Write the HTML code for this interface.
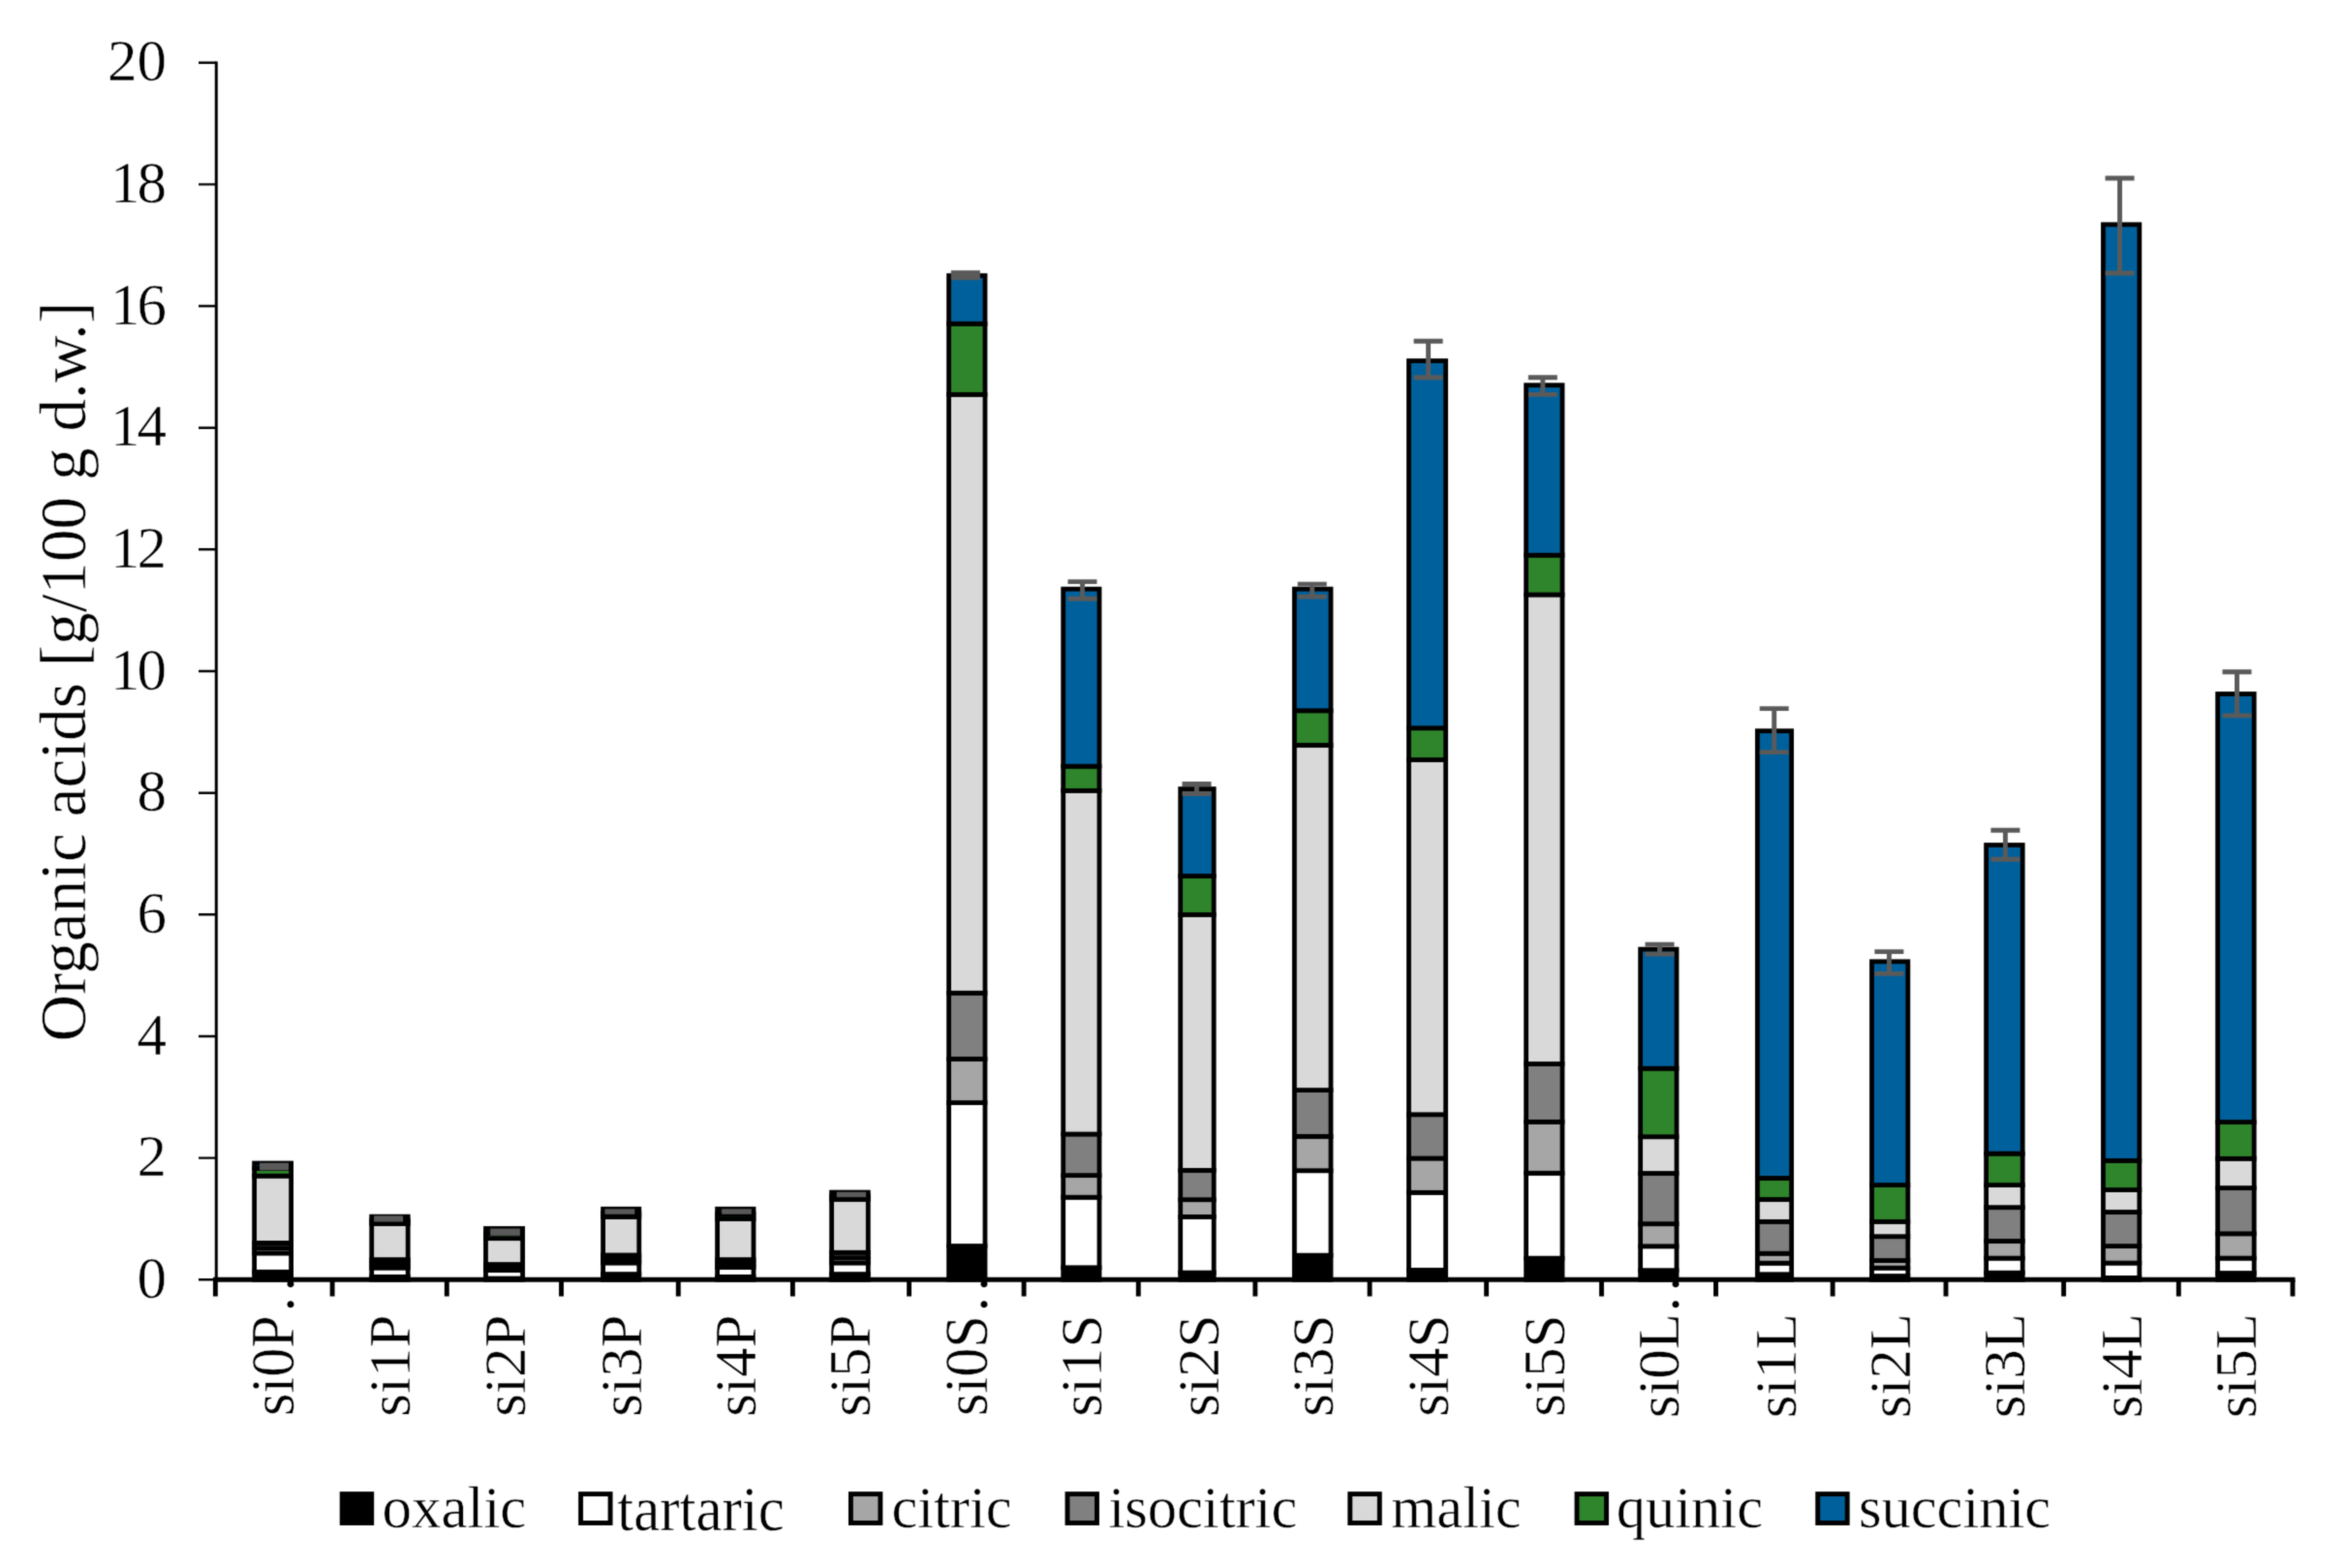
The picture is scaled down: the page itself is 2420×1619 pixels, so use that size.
<!DOCTYPE html>
<html lang="en"><head><meta charset="utf-8"><title>Organic acids</title>
<style>html,body{margin:0;padding:0;background:#fff}svg{display:block}</style></head>
<body>
<svg width="2420" height="1619" viewBox="0 0 2420 1619">
<defs><filter id="soft" x="0" y="0" width="2420" height="1619" filterUnits="userSpaceOnUse" color-interpolation-filters="sRGB"><feConvolveMatrix order="3" kernelMatrix="1 4 1 4 16 4 1 4 1" divisor="36" edgeMode="duplicate" preserveAlpha="true"/></filter></defs>
<g filter="url(#soft)">
<rect width="2420" height="1619" fill="#fff"/>
<g stroke="#000" stroke-width="4.8" stroke-linejoin="miter">
<rect x="262.60" y="1313.32" width="38.00" height="7.98" fill="#000000"/>
<rect x="262.60" y="1293.91" width="38.00" height="19.41" fill="#ffffff"/>
<rect x="262.60" y="1288.63" width="38.00" height="5.28" fill="#a6a6a6"/>
<rect x="262.60" y="1283.41" width="38.00" height="5.21" fill="#808080"/>
<rect x="262.60" y="1214.17" width="38.00" height="69.24" fill="#d9d9d9"/>
<rect x="262.60" y="1206.32" width="38.00" height="7.85" fill="#2f852b"/>
<rect x="262.60" y="1201.04" width="38.00" height="5.28" fill="#00609c"/>
<rect x="383.70" y="1318.35" width="37.50" height="2.95" fill="#000000"/>
<rect x="383.70" y="1309.05" width="37.50" height="9.30" fill="#ffffff"/>
<rect x="383.70" y="1304.84" width="37.50" height="4.21" fill="#a6a6a6"/>
<rect x="383.70" y="1300.57" width="37.50" height="4.27" fill="#808080"/>
<rect x="383.70" y="1263.56" width="37.50" height="37.01" fill="#d9d9d9"/>
<rect x="383.70" y="1260.04" width="37.50" height="3.52" fill="#2f852b"/>
<rect x="383.70" y="1256.15" width="37.50" height="3.90" fill="#00609c"/>
<rect x="501.50" y="1320.04" width="38.10" height="1.26" fill="#000000"/>
<rect x="501.50" y="1311.62" width="38.10" height="8.42" fill="#ffffff"/>
<rect x="501.50" y="1308.73" width="38.10" height="2.89" fill="#a6a6a6"/>
<rect x="501.50" y="1305.53" width="38.10" height="3.20" fill="#808080"/>
<rect x="501.50" y="1278.64" width="38.10" height="26.89" fill="#d9d9d9"/>
<rect x="501.50" y="1273.55" width="38.10" height="5.09" fill="#2f852b"/>
<rect x="501.50" y="1268.46" width="38.10" height="5.09" fill="#00609c"/>
<rect x="622.60" y="1315.58" width="37.20" height="5.72" fill="#000000"/>
<rect x="622.60" y="1303.96" width="37.20" height="11.62" fill="#ffffff"/>
<rect x="622.60" y="1299.94" width="37.20" height="4.02" fill="#a6a6a6"/>
<rect x="622.60" y="1295.98" width="37.20" height="3.96" fill="#808080"/>
<rect x="622.60" y="1256.40" width="37.20" height="39.58" fill="#d9d9d9"/>
<rect x="622.60" y="1252.50" width="37.20" height="3.90" fill="#2f852b"/>
<rect x="622.60" y="1248.29" width="37.20" height="4.21" fill="#00609c"/>
<rect x="740.60" y="1318.35" width="37.40" height="2.95" fill="#000000"/>
<rect x="740.60" y="1308.55" width="37.40" height="9.80" fill="#ffffff"/>
<rect x="740.60" y="1304.65" width="37.40" height="3.90" fill="#a6a6a6"/>
<rect x="740.60" y="1300.57" width="37.40" height="4.08" fill="#808080"/>
<rect x="740.60" y="1258.47" width="37.40" height="42.10" fill="#d9d9d9"/>
<rect x="740.60" y="1253.44" width="37.40" height="5.03" fill="#2f852b"/>
<rect x="740.60" y="1248.29" width="37.40" height="5.15" fill="#00609c"/>
<rect x="858.60" y="1315.58" width="37.70" height="5.72" fill="#000000"/>
<rect x="858.60" y="1303.96" width="37.70" height="11.62" fill="#ffffff"/>
<rect x="858.60" y="1298.68" width="37.70" height="5.28" fill="#a6a6a6"/>
<rect x="858.60" y="1293.28" width="37.70" height="5.40" fill="#808080"/>
<rect x="858.60" y="1238.36" width="37.70" height="54.91" fill="#d9d9d9"/>
<rect x="858.60" y="1234.91" width="37.70" height="3.46" fill="#2f852b"/>
<rect x="858.60" y="1231.08" width="37.70" height="3.83" fill="#00609c"/>
<rect x="979.60" y="1286.56" width="37.40" height="34.74" fill="#000000"/>
<rect x="979.60" y="1138.59" width="37.40" height="147.96" fill="#ffffff"/>
<rect x="979.60" y="1093.42" width="37.40" height="45.17" fill="#a6a6a6"/>
<rect x="979.60" y="1025.31" width="37.40" height="68.11" fill="#808080"/>
<rect x="979.60" y="407.37" width="37.40" height="617.93" fill="#d9d9d9"/>
<rect x="979.60" y="334.24" width="37.40" height="73.13" fill="#2f852b"/>
<rect x="979.60" y="284.61" width="37.40" height="49.64" fill="#00609c"/>
<rect x="1097.70" y="1308.80" width="37.30" height="12.50" fill="#000000"/>
<rect x="1097.70" y="1236.23" width="37.30" height="72.57" fill="#ffffff"/>
<rect x="1097.70" y="1213.61" width="37.30" height="22.62" fill="#a6a6a6"/>
<rect x="1097.70" y="1171.01" width="37.30" height="42.60" fill="#808080"/>
<rect x="1097.70" y="816.40" width="37.30" height="354.61" fill="#d9d9d9"/>
<rect x="1097.70" y="791.20" width="37.30" height="25.19" fill="#2f852b"/>
<rect x="1097.70" y="608.18" width="37.30" height="183.02" fill="#00609c"/>
<rect x="1218.70" y="1314.07" width="34.50" height="7.23" fill="#000000"/>
<rect x="1218.70" y="1256.40" width="34.50" height="57.68" fill="#ffffff"/>
<rect x="1218.70" y="1238.68" width="34.50" height="17.72" fill="#a6a6a6"/>
<rect x="1218.70" y="1208.39" width="34.50" height="30.28" fill="#808080"/>
<rect x="1218.70" y="944.45" width="34.50" height="263.95" fill="#d9d9d9"/>
<rect x="1218.70" y="904.55" width="34.50" height="39.90" fill="#2f852b"/>
<rect x="1218.70" y="814.58" width="34.50" height="89.97" fill="#00609c"/>
<rect x="1336.40" y="1296.17" width="37.60" height="25.13" fill="#000000"/>
<rect x="1336.40" y="1208.71" width="37.60" height="87.46" fill="#ffffff"/>
<rect x="1336.40" y="1173.40" width="37.60" height="35.31" fill="#a6a6a6"/>
<rect x="1336.40" y="1125.58" width="37.60" height="47.81" fill="#808080"/>
<rect x="1336.40" y="769.40" width="37.60" height="356.18" fill="#d9d9d9"/>
<rect x="1336.40" y="733.78" width="37.60" height="35.62" fill="#2f852b"/>
<rect x="1336.40" y="608.18" width="37.60" height="125.60" fill="#00609c"/>
<rect x="1454.50" y="1311.37" width="38.10" height="9.93" fill="#000000"/>
<rect x="1454.50" y="1231.33" width="38.10" height="80.05" fill="#ffffff"/>
<rect x="1454.50" y="1196.02" width="38.10" height="35.31" fill="#a6a6a6"/>
<rect x="1454.50" y="1150.78" width="38.10" height="45.24" fill="#808080"/>
<rect x="1454.50" y="784.48" width="38.10" height="366.30" fill="#d9d9d9"/>
<rect x="1454.50" y="751.75" width="38.10" height="32.73" fill="#2f852b"/>
<rect x="1454.50" y="372.57" width="38.10" height="379.18" fill="#00609c"/>
<rect x="1575.60" y="1299.18" width="37.40" height="22.12" fill="#000000"/>
<rect x="1575.60" y="1211.28" width="37.40" height="87.90" fill="#ffffff"/>
<rect x="1575.60" y="1158.38" width="37.40" height="52.90" fill="#a6a6a6"/>
<rect x="1575.60" y="1098.50" width="37.40" height="59.88" fill="#808080"/>
<rect x="1575.60" y="614.02" width="37.40" height="484.48" fill="#d9d9d9"/>
<rect x="1575.60" y="573.25" width="37.40" height="40.78" fill="#2f852b"/>
<rect x="1575.60" y="397.70" width="37.40" height="175.55" fill="#00609c"/>
<rect x="1693.60" y="1311.69" width="37.40" height="9.61" fill="#000000"/>
<rect x="1693.60" y="1286.81" width="37.40" height="24.88" fill="#ffffff"/>
<rect x="1693.60" y="1263.68" width="37.40" height="23.12" fill="#a6a6a6"/>
<rect x="1693.60" y="1211.47" width="37.40" height="52.21" fill="#808080"/>
<rect x="1693.60" y="1173.71" width="37.40" height="37.76" fill="#d9d9d9"/>
<rect x="1693.60" y="1103.22" width="37.40" height="70.50" fill="#2f852b"/>
<rect x="1693.60" y="980.13" width="37.40" height="123.08" fill="#00609c"/>
<rect x="1814.40" y="1315.77" width="35.20" height="5.53" fill="#000000"/>
<rect x="1814.40" y="1304.21" width="35.20" height="11.56" fill="#ffffff"/>
<rect x="1814.40" y="1294.22" width="35.20" height="9.99" fill="#a6a6a6"/>
<rect x="1814.40" y="1261.42" width="35.20" height="32.80" fill="#808080"/>
<rect x="1814.40" y="1238.49" width="35.20" height="22.93" fill="#d9d9d9"/>
<rect x="1814.40" y="1216.50" width="35.20" height="21.99" fill="#2f852b"/>
<rect x="1814.40" y="754.70" width="35.20" height="461.80" fill="#00609c"/>
<rect x="1932.50" y="1317.53" width="37.30" height="3.77" fill="#000000"/>
<rect x="1932.50" y="1309.17" width="37.30" height="8.36" fill="#ffffff"/>
<rect x="1932.50" y="1301.51" width="37.30" height="7.67" fill="#a6a6a6"/>
<rect x="1932.50" y="1276.69" width="37.30" height="24.82" fill="#808080"/>
<rect x="1932.50" y="1261.42" width="37.30" height="15.27" fill="#d9d9d9"/>
<rect x="1932.50" y="1223.60" width="37.30" height="37.82" fill="#2f852b"/>
<rect x="1932.50" y="992.82" width="37.30" height="230.77" fill="#00609c"/>
<rect x="2050.60" y="1314.20" width="37.60" height="7.10" fill="#000000"/>
<rect x="2050.60" y="1299.12" width="37.60" height="15.08" fill="#ffffff"/>
<rect x="2050.60" y="1281.47" width="37.60" height="17.66" fill="#a6a6a6"/>
<rect x="2050.60" y="1246.66" width="37.60" height="34.81" fill="#808080"/>
<rect x="2050.60" y="1223.60" width="37.60" height="23.06" fill="#d9d9d9"/>
<rect x="2050.60" y="1191.12" width="37.60" height="32.48" fill="#2f852b"/>
<rect x="2050.60" y="872.51" width="37.60" height="318.61" fill="#00609c"/>
<rect x="2171.40" y="1319.42" width="37.40" height="1.88" fill="#000000"/>
<rect x="2171.40" y="1304.08" width="37.40" height="15.33" fill="#ffffff"/>
<rect x="2171.40" y="1286.62" width="37.40" height="17.47" fill="#a6a6a6"/>
<rect x="2171.40" y="1251.50" width="37.40" height="35.12" fill="#808080"/>
<rect x="2171.40" y="1228.56" width="37.40" height="22.93" fill="#d9d9d9"/>
<rect x="2171.40" y="1198.40" width="37.40" height="30.16" fill="#2f852b"/>
<rect x="2171.40" y="231.83" width="37.40" height="966.58" fill="#00609c"/>
<rect x="2289.60" y="1314.51" width="37.60" height="6.79" fill="#000000"/>
<rect x="2289.60" y="1299.12" width="37.60" height="15.39" fill="#ffffff"/>
<rect x="2289.60" y="1273.80" width="37.60" height="25.32" fill="#a6a6a6"/>
<rect x="2289.60" y="1226.62" width="37.60" height="47.19" fill="#808080"/>
<rect x="2289.60" y="1196.33" width="37.60" height="30.28" fill="#d9d9d9"/>
<rect x="2289.60" y="1158.57" width="37.60" height="37.76" fill="#2f852b"/>
<rect x="2289.60" y="716.50" width="37.60" height="442.07" fill="#00609c"/>
</g>
<g fill="#5a5a5a">
<rect x="268.0" y="1200.7" width="30.0" height="7.6"/>
<rect x="386.1" y="1255.3" width="30.0" height="6.2"/>
<rect x="506.2" y="1268.5" width="30.7" height="7.3"/>
<rect x="624.5" y="1248.3" width="30.8" height="5.4"/>
<rect x="745.1" y="1248.3" width="30.7" height="5.4"/>
<rect x="863.8" y="1230.7" width="30.3" height="5.4"/>
<rect x="981.8" y="279.2" width="30.1" height="10.0"/>
</g>
<g stroke="#5a5a5a" stroke-width="4.9" fill="none">
<path d="M1102.5 600.6H1132.5M1102.5 618.2H1132.5M1117.5 600.6V618.2"/>
<path d="M1220.5 809.5H1250.5M1220.5 819.5H1250.5M1235.5 809.5V819.5"/>
<path d="M1339.7 603.1H1369.7M1339.7 616.1H1369.7M1354.7 603.1V616.1"/>
<path d="M1459.6 352.3H1489.6M1459.6 389.7H1489.6M1474.6 352.3V389.7"/>
<path d="M1577.8 389.8H1607.8M1577.8 407.4H1607.8M1592.8 389.8V407.4"/>
<path d="M1698.5 975.1H1728.5M1698.5 985.1H1728.5M1713.5 975.1V985.1"/>
<path d="M1816.7 731.6H1846.7M1816.7 776.6H1846.7M1831.7 731.6V776.6"/>
<path d="M1935.4 982.6H1965.4M1935.4 1005.4H1965.4M1950.4 982.6V1005.4"/>
<path d="M2055.4 857.3H2085.4M2055.4 887.3H2085.4M2070.4 857.3V887.3"/>
<path d="M2173.5 184.0H2203.5M2173.5 282.0H2203.5M2188.5 184.0V282.0"/>
<path d="M2294.5 693.7H2324.5M2294.5 738.9H2324.5M2309.5 693.7V738.9"/>
</g>
<g stroke="#000" fill="none">
<path d="M223.3 63.5V1321.3" stroke-width="3"/>
<path d="M205 1321.3H223.3M205 1195.6H223.3M205 1070.0H223.3M205 944.3H223.3M205 818.7H223.3M205 693.0H223.3M205 567.3H223.3M205 441.7H223.3M205 316.0H223.3M205 190.4H223.3M205 64.7H223.3" stroke-width="2.4"/>
<path d="M220 1321.3H2369.5" stroke-width="5"/>
<path d="M222.4 1321.3V1338.6M343.1 1321.3V1338.6M461.3 1321.3V1338.6M579.5 1321.3V1338.6M700.3 1321.3V1338.6M818.4 1321.3V1338.6M938.6 1321.3V1338.6M1057.1 1321.3V1338.6M1175.3 1321.3V1338.6M1295.9 1321.3V1338.6M1414.1 1321.3V1338.6M1534.6 1321.3V1338.6M1653.5 1321.3V1338.6M1771.5 1321.3V1338.6M1892.1 1321.3V1338.6M2009.0 1321.3V1338.6M2130.6 1321.3V1338.6M2249.3 1321.3V1338.6M2367.0 1321.3V1338.6" stroke-width="4.9"/>
</g>
<g font-family="'Liberation Serif', 'Times New Roman', serif" fill="#000" stroke="#fff" stroke-width="0.5">
<g font-size="61" text-anchor="end">
<text x="172" y="1339.8">0</text>
<text x="172" y="1214.1">2</text>
<text x="172" y="1088.5">4</text>
<text x="172" y="962.8">6</text>
<text x="172" y="837.2">8</text>
<text x="172" y="711.5"><tspan letter-spacing="-3">1</tspan>0</text>
<text x="172" y="585.8"><tspan letter-spacing="-3">1</tspan>2</text>
<text x="172" y="460.2"><tspan letter-spacing="-3">1</tspan>4</text>
<text x="172" y="334.5"><tspan letter-spacing="-3">1</tspan>6</text>
<text x="172" y="208.9"><tspan letter-spacing="-3">1</tspan>8</text>
<text x="172" y="83.2">20</text>
</g>
<text font-size="67.25" text-anchor="middle" transform="translate(87.8 693.6) rotate(-90)">Organic acids [g/100 g d.w.]</text>
<g text-anchor="middle">
<text font-size="63.5" transform="translate(302.7 1410.1) rotate(-90) scale(0.95 1)">si0P</text>
<text font-size="60" stroke="none" text-anchor="start" transform="translate(302.7 1354.2) rotate(-90)" letter-spacing="5.9">..</text>
<text font-size="61.5" transform="translate(423.3 1410.1) rotate(-90) scale(0.992 1)">si1P</text>
<text font-size="61.5" transform="translate(541.7 1410.1) rotate(-90) scale(0.992 1)">si2P</text>
<text font-size="61.5" transform="translate(661.9 1410.1) rotate(-90) scale(0.992 1)">si3P</text>
<text font-size="61.5" transform="translate(780.1 1410.1) rotate(-90) scale(0.992 1)">si4P</text>
<text font-size="61.5" transform="translate(898.4 1410.1) rotate(-90) scale(0.992 1)">si5P</text>
<text font-size="63.5" transform="translate(1019.1 1410.1) rotate(-90) scale(0.95 1)">si0S</text>
<text font-size="60" stroke="none" text-anchor="start" transform="translate(1019.1 1354.2) rotate(-90)" letter-spacing="5.9">..</text>
<text font-size="61.5" transform="translate(1137.1 1410.1) rotate(-90) scale(0.992 1)">si1S</text>
<text font-size="61.5" transform="translate(1257.6 1410.1) rotate(-90) scale(0.992 1)">si2S</text>
<text font-size="61.5" transform="translate(1376.1 1410.1) rotate(-90) scale(0.992 1)">si3S</text>
<text font-size="61.5" transform="translate(1494.7 1410.1) rotate(-90) scale(0.992 1)">si4S</text>
<text font-size="61.5" transform="translate(1615.1 1410.1) rotate(-90) scale(0.992 1)">si5S</text>
<text font-size="61.5" transform="translate(1733.1 1410.1) rotate(-90) scale(0.992 1)">si0L</text>
<text font-size="60" stroke="none" text-anchor="start" transform="translate(1733.1 1354.2) rotate(-90)" letter-spacing="5.9">..</text>
<text font-size="61.5" transform="translate(1853.8 1410.1) rotate(-90) scale(0.992 1)">si1L</text>
<text font-size="61.5" transform="translate(1971.9 1410.1) rotate(-90) scale(0.992 1)">si2L</text>
<text font-size="61.5" transform="translate(2090.3 1410.1) rotate(-90) scale(0.992 1)">si3L</text>
<text font-size="61.5" transform="translate(2210.9 1410.1) rotate(-90) scale(0.992 1)">si4L</text>
<text font-size="61.5" transform="translate(2329.3 1410.1) rotate(-90) scale(0.992 1)">si5L</text>
</g>
<g font-size="60.5">
<rect x="353.20" y="1542.6" width="30.5" height="29.9" fill="#000000" stroke="#000" stroke-width="4.9"/>
<text font-size="61" x="394.4" y="1576.5">oxalic</text>
<rect x="599.60" y="1542.6" width="30.5" height="29.9" fill="#ffffff" stroke="#000" stroke-width="4.9"/>
<text font-size="64.5" transform="translate(637.3 1579.6) scale(0.945 1)">tartaric</text>
<rect x="878.40" y="1542.6" width="30.5" height="29.9" fill="#a6a6a6" stroke="#000" stroke-width="4.9"/>
<text x="920.4" y="1576.5">citric</text>
<rect x="1102.00" y="1542.6" width="30.5" height="29.9" fill="#808080" stroke="#000" stroke-width="4.9"/>
<text x="1144.4" y="1576.5">isocitric</text>
<rect x="1393.80" y="1542.6" width="30.5" height="29.9" fill="#d9d9d9" stroke="#000" stroke-width="4.9"/>
<text x="1436.3" y="1576.5">malic</text>
<rect x="1628.00" y="1542.6" width="30.5" height="29.9" fill="#2f852b" stroke="#000" stroke-width="4.9"/>
<text x="1668.8" y="1576.5">quinic</text>
<rect x="1876.70" y="1542.6" width="30.5" height="29.9" fill="#00609c" stroke="#000" stroke-width="4.9"/>
<text x="1918.9" y="1576.5">succinic</text>
</g>
</g>
</g>
</svg>
</body></html>
